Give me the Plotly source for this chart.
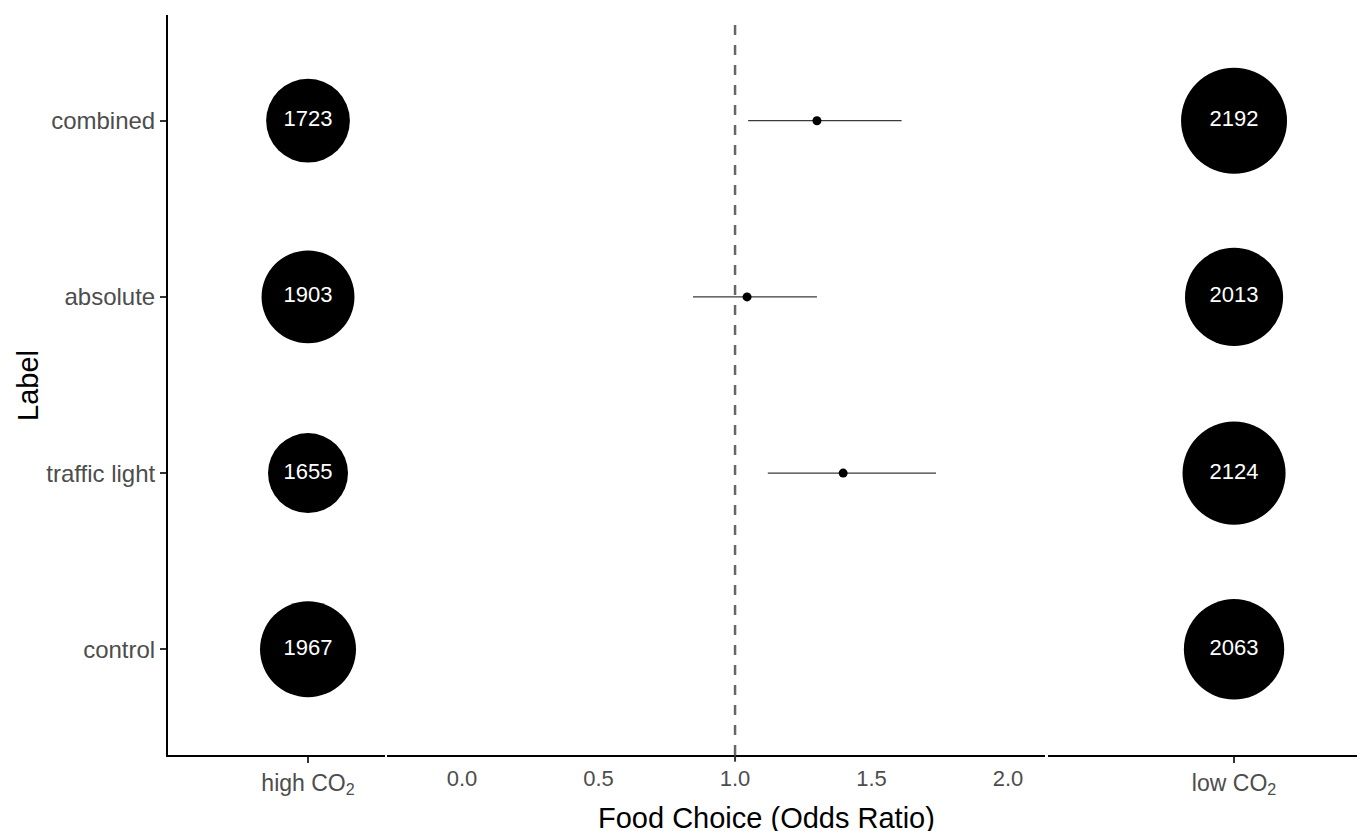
import plotly.graph_objects as go
import numpy as np

labels = ["control", "traffic light", "absolute", "combined"]
n_high = [1967, 1655, 1903, 1723]
n_low = [2063, 2124, 2013, 2192]
odds = [None, 1.396, 1.044, 1.30]
ci_low = [None, 1.12, 0.846, 1.048]
ci_high = [None, 1.736, 1.30, 1.61]
mid_ticks = [0.0, 0.5, 1.0, 1.5, 2.0]

ypos = list(range(len(labels)))

def diam(n):
    return float(np.sqrt(6400 + 9.0 * (n - 1655)))

fig = go.Figure()
font = "Liberation Sans, Arial, sans-serif"

# left panel bubbles
fig.add_trace(go.Scatter(
    x=[0] * len(labels), y=ypos, mode="markers+text",
    marker=dict(size=[diam(v) for v in n_high], color="black", opacity=1, line=dict(width=0)),
    text=[str(v) for v in n_high], textposition="middle center",
    textfont=dict(color="white", size=22, family=font),
    xaxis="x", yaxis="y", showlegend=False, hoverinfo="skip"))

# right panel bubbles
fig.add_trace(go.Scatter(
    x=[0] * len(labels), y=ypos, mode="markers+text",
    marker=dict(size=[diam(v) for v in n_low], color="black", opacity=1, line=dict(width=0)),
    text=[str(v) for v in n_low], textposition="middle center",
    textfont=dict(color="white", size=22, family=font),
    xaxis="x3", yaxis="y", showlegend=False, hoverinfo="skip"))

# middle panel: confidence intervals
for i in ypos:
    if odds[i] is None:
        continue
    fig.add_trace(go.Scatter(
        x=[ci_low[i], ci_high[i]], y=[i, i], mode="lines",
        line=dict(color="#3a3a3a", width=1.2),
        xaxis="x2", yaxis="y", showlegend=False, hoverinfo="skip"))
fig.add_trace(go.Scatter(
    x=[o for o in odds if o is not None],
    y=[i for i in ypos if odds[i] is not None], mode="markers",
    marker=dict(size=9, color="black", symbol="circle", opacity=1),
    xaxis="x2", yaxis="y", showlegend=False, hoverinfo="skip"))

# dashed reference line at OR = 1
fig.add_shape(type="line", xref="x2", yref="paper", x0=1, x1=1, y0=0, y1=1,
              line=dict(color="#666666", width=2.5, dash="10px,10px"))
# tick at 1.0
fig.add_shape(type="line", xref="x2", yref="paper", x0=1, x1=1, y0=0, y1=-0.009,
              line=dict(color="#333333", width=2))

def tf(size):
    return dict(size=size, color="#4d4d4d", family=font)

axis_common = dict(showline=True, linecolor="black", linewidth=2, showgrid=False,
                   zeroline=False, anchor="y", fixedrange=True)

fig.update_layout(
    width=1365, height=823,
    margin=dict(l=160, r=8, t=7, b=76),
    paper_bgcolor="white", plot_bgcolor="white",
    xaxis=dict(domain=[0, 0.1813], range=[-1, 0.55], tickvals=[0],
               ticktext=["high CO<sub>2</sub>"], ticks="outside", ticklen=6,
               tickwidth=2, tickcolor="#333333", tickfont=tf(23), **axis_common),
    xaxis2=dict(domain=[0.1830, 0.7327], range=[-0.2747, 2.1355], tickvals=mid_ticks,
                ticktext=[f"{t:.1f}" for t in mid_ticks], ticks="outside", ticklen=3,
                tickcolor="rgba(0,0,0,0)", tickfont=tf(22), **axis_common),
    xaxis3=dict(domain=[0.7352, 1.0], range=[-1, 0.704], tickvals=[0],
                ticktext=["low CO<sub>2</sub>"], ticks="outside", ticklen=6,
                tickwidth=2, tickcolor="#333333", tickfont=tf(23), **axis_common),
    yaxis=dict(range=[-0.6, 3.6], tickvals=ypos, ticktext=labels, showline=True,
               linecolor="black", linewidth=2, showgrid=False, zeroline=False,
               ticks="outside", ticklen=6, tickwidth=2, tickcolor="#333333",
               tickfont=tf(24), fixedrange=True),
    annotations=[
        dict(text="Food Choice (Odds Ratio)", xref="paper", yref="paper",
             x=0.5, y=-0.085, xanchor="center", yanchor="middle",
             showarrow=False, font=dict(size=29, color="black", family=font)),
        dict(text="Label", xref="paper", yref="paper", x=-0.117, y=0.5,
             xanchor="center", yanchor="middle", textangle=-90,
             showarrow=False, font=dict(size=29, color="black", family=font)),
    ],
)

fig.write_html("out.html")
